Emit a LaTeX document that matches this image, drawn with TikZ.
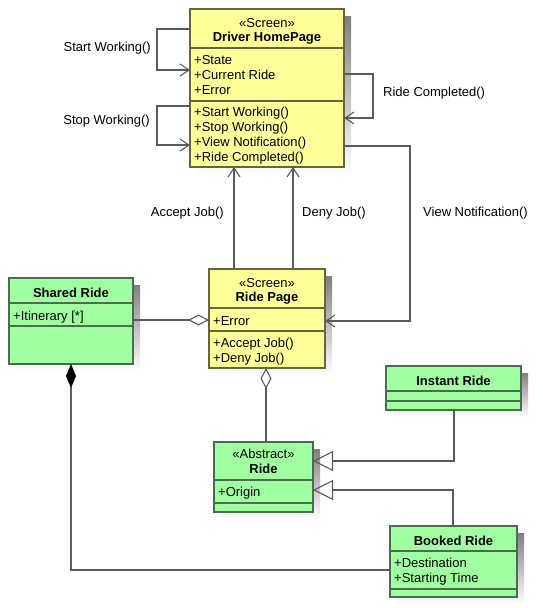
\documentclass[tikz,border=0pt]{standalone}
\usepackage{fontspec}
\setmainfont{Liberation Sans}
\usetikzlibrary{arrows.meta,calc}

\definecolor{screenfill}{HTML}{FFFF9A}
\definecolor{entityfill}{HTML}{A0FFA0}
\definecolor{screenedge}{HTML}{66663D}
\definecolor{entityedge}{HTML}{4D6B4D}
\definecolor{wirecol}{HTML}{5A5A5A}
\definecolor{shade}{HTML}{EFEFEF}

\tikzset{
  x=1pt, y=-1pt,
  cls/.style={line width=1.2pt, inner sep=0pt, outer sep=0pt, anchor=north west},
  compsep/.style={line width=1.2pt},
  txt/.style={inner sep=0pt, font=\fontsize{13}{15}\selectfont},
  ster/.style={txt, anchor=base},
  cname/.style={txt, anchor=base, font=\fontsize{13}{15}\selectfont\bfseries},
  member/.style={txt, anchor=base west},
  wire/.style={draw=wirecol, line width=1.1pt},
  navarrow/.style={wire, -{Straight Barb[length=9pt,width=12pt]}},
  aggr/.style={wire, -{Diamond[open,length=21pt,width=11pt]}},
  compo/.style={wire, -{Diamond[fill=black,color=black,length=24pt,width=10pt]}},
  gen/.style={wire, -{Triangle[open,length=20pt,width=20pt]}},
}

% class box: name, fill, edge, x1, y1, x2, y2, first separator, second separator
\newcommand\umlbox[9]{%
  \fill[shade] (#4+7,#5+7) rectangle (#6+7,#7+7);
  \node[cls, fill=#2, draw=#3, minimum width={#6-#4}, minimum height={#7-#5}] (#1) at (#4,#5) {};
  \draw[compsep, draw=#3] (#4,#8) -- (#6,#8);
  \draw[compsep, draw=#3] (#4,#9) -- (#6,#9);
}

\begin{document}
\begin{tikzpicture}
\fill[white] (0,0) rectangle (543,608);
\useasboundingbox (0,0) rectangle (543,608);

% Driver HomePage
\umlbox{dhp}{screenfill}{screenedge}{190}{9}{344}{167}{48}{101}
\node[ster]  (dhp-s)  at (267,27) {«Screen»};
\node[cname] (dhp-n)  at (267,41) {Driver HomePage};
\node[member] (dhp-a1) at (194,64) {+State};
\node[member] (dhp-a2) at (194,79) {+Current Ride};
\node[member] (dhp-a3) at (194,94) {+Error};
\node[member] (dhp-m1) at (194,116) {+Start Working()};
\node[member] (dhp-m2) at (194,131) {+Stop Working()};
\node[member] (dhp-m3) at (194,146) {+View Notification()};
\node[member] (dhp-m4) at (194,161) {+Ride Completed()};

% Ride Page
\umlbox{rp}{screenfill}{screenedge}{209}{269}{325}{368}{308}{331}
\node[ster]  (rp-s)  at (267,287) {«Screen»};
\node[cname] (rp-n)  at (267,301) {Ride Page};
\node[member] (rp-a1) at (213,325) {+Error};
\node[member] (rp-m1) at (213,347) {+Accept Job()};
\node[member] (rp-m2) at (213,362) {+Deny Job()};

% Shared Ride
\umlbox{sr}{entityfill}{entityedge}{9}{278}{133}{364}{303}{326}
\node[cname] (sr-n)  at (71,297) {Shared Ride};
\node[member] (sr-a1) at (13,320) {+Itinerary [*]};

% Ride
\umlbox{ride}{entityfill}{entityedge}{214}{442}{313}{512}{480}{503}
\node[ster]  (ride-s) at (263.5,458) {«Abstract»};
\node[cname] (ride-n) at (263.5,473) {Ride};
\node[member] (ride-a1) at (218,496) {+Origin};

% Instant Ride
\umlbox{ir}{entityfill}{entityedge}{386}{366}{521}{410}{391}{401}
\node[cname] (ir-n) at (453.5,385) {Instant Ride};

% Booked Ride
\umlbox{bk}{entityfill}{entityedge}{390}{526}{517}{597}{551}{589}
\node[cname] (bk-n) at (453.5,545) {Booked Ride};
\node[member] (bk-a1) at (394,567) {+Destination};
\node[member] (bk-a2) at (394,582) {+Starting Time};

% self transitions on Driver HomePage
\draw[navarrow] ($(dhp.north west)+(0,20)$) -- ++(-33,0) |- ($(dhp.north west)+(0,61)$);
\draw[navarrow] ($(dhp.north west)+(0,97)$) -- ++(-33,0) |- ($(dhp.north west)+(0,136)$);
\draw[navarrow] ($(dhp.north east)+(0,65)$) -- ++(29,0) |- ($(dhp.north east)+(0,109)$);

% View Notification to Ride Page
\draw[navarrow] ($(dhp.north east)+(0,137)$) -- ++(66,0) |- ($(rp.north east)+(0,52)$);

% Accept / Deny back to Driver HomePage
\coordinate (acc) at ($(rp.north west)+(25,0)$);
\coordinate (den) at ($(rp.north west)+(84,0)$);
\draw[navarrow] (acc) -- (acc |- dhp.south);
\draw[navarrow] (den) -- (den |- dhp.south);

% Shared Ride aggregated in Ride Page
\coordinate (agg) at ($(sr.north east)+(0,42)$);
\draw[aggr] (agg) -- (agg -| rp.west);

% Ride aggregated in Ride Page
\coordinate (rd) at ($(rp.south west)+(57,0)$);
\draw[aggr] (rd |- ride.north) -- (rd);

% Booked Ride composed into Shared Ride
\coordinate (cm) at ($(sr.south west)+(62,0)$);
\draw[compo] ($(bk.north west)+(0,44)$) -| (cm);

% generalizations
\coordinate (ig) at ($(ir.south west)+(68,0)$);
\coordinate (bg) at ($(bk.north west)+(63,0)$);
\draw[gen] (ig) |- ($(ride.north east)+(0,19)$);
\draw[gen] (bg) |- ($(ride.north east)+(0,48)$);

% message labels
\node[txt, anchor=base east] (l-sw) at (151,51) {Start Working()};
\node[txt, anchor=base east] (l-st) at (150,124) {Stop Working()};
\node[txt, anchor=base west] (l-rc) at (383,96) {Ride Completed()};
\node[txt, anchor=base west] (l-vn) at (423,216) {View Notification()};
\node[txt, anchor=base east] (l-aj) at (224,216) {Accept Job()};
\node[txt, anchor=base west] (l-dj) at (302,216) {Deny Job()};
\end{tikzpicture}
\end{document}
